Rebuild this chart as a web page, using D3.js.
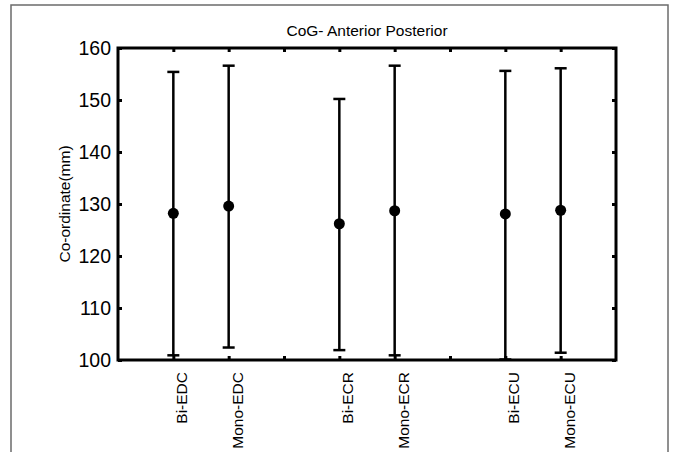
<!DOCTYPE html>
<html>
<head>
<meta charset="utf-8">
<script src="https://cdn.jsdelivr.net/npm/d3@7"></script>
<style>
  html, body { margin: 0; padding: 0; background: #fff; }
  svg { display: block; }
  text { font-family: Arial, "Liberation Sans", sans-serif; fill: #000; }
</style>
</head>
<body>
<svg id="chart" width="673" height="452"></svg>
<script>
// Muscle groups and their slot on the x axis (gaps at 3 and 6)
const categories = ["Bi-EDC", "Mono-EDC", "Bi-ECR", "Mono-ECR", "Bi-ECU", "Mono-ECU"];
const positions = [1, 2, 4, 5, 7, 8];
// Centre of gravity, anterior-posterior (mm): mean with lower / upper bar ends
const means = [128.2, 129.6, 126.2, 128.7, 128.1, 128.8];
const lower = [100.9, 102.4, 101.9, 100.9, 100.1, 101.4];
const upper = [155.4, 156.6, 150.2, 156.6, 155.6, 156.1];
const yTicks = [100, 110, 120, 130, 140, 150, 160];
const xTicks = [1, 2, 3, 4, 5, 6, 7, 8];

const svg = d3.select("#chart");

// outer figure frame
svg.append("rect")
  .attr("x", 11).attr("y", 5)
  .attr("width", 657).attr("height", 470)
  .attr("fill", "none").attr("stroke", "#6b6b6b").attr("stroke-width", 1.5);

const plot = { left: 118, right: 616, top: 48, bottom: 360 };
const x = d3.scaleLinear().domain([0, 9]).range([plot.left, plot.right]);
const y = d3.scaleLinear().domain([100, 160]).range([plot.bottom, plot.top]);

const labelFor = p => {
  const i = positions.indexOf(p);
  return i >= 0 ? categories[i] : "";
};

function styleAxis(g) {
  g.select(".domain").remove();
  g.selectAll(".tick line").attr("stroke", "#000").attr("stroke-width", 3);
}

// left axis with inward ticks
svg.append("g")
  .attr("transform", `translate(${plot.left},0)`)
  .call(d3.axisLeft(y).tickValues(yTicks).tickSize(-4).tickPadding(7).tickFormat(d3.format("d")))
  .call(styleAxis)
  .call(g => g.selectAll(".tick text").attr("font-size", 19.5).attr("fill", "#000"));

// right axis ticks
svg.append("g")
  .attr("transform", `translate(${plot.right},0)`)
  .call(d3.axisRight(y).tickValues(yTicks).tickSize(-4).tickFormat(""))
  .call(styleAxis);

// top axis ticks
svg.append("g")
  .attr("transform", `translate(0,${plot.top})`)
  .call(d3.axisTop(x).tickValues(xTicks).tickSize(-4).tickFormat(""))
  .call(styleAxis);

// bottom axis with rotated category labels
svg.append("g")
  .attr("transform", `translate(0,${plot.bottom})`)
  .call(d3.axisBottom(x).tickValues(xTicks).tickSize(-4).tickFormat(labelFor))
  .call(styleAxis)
  .call(g => g.selectAll(".tick text")
    .attr("font-size", 15.5)
    .attr("fill", "#000")
    .attr("text-anchor", "end")
    .attr("dy", null)
    .attr("y", 0)
    .attr("transform", "translate(13.5,12) rotate(-90)"));

// plot box
svg.append("rect")
  .attr("x", plot.left).attr("y", plot.top)
  .attr("width", plot.right - plot.left).attr("height", plot.bottom - plot.top)
  .attr("fill", "none").attr("stroke", "#000").attr("stroke-width", 3);

// error bars
const rows = categories.map((c, i) => ({ c, p: positions[i], m: means[i], lo: lower[i], hi: upper[i] }));
const bars = svg.append("g").attr("stroke", "#000").attr("stroke-width", 2.5);
bars.selectAll("line.v").data(rows).join("line").attr("class", "v")
  .attr("x1", d => x(d.p)).attr("x2", d => x(d.p))
  .attr("y1", d => y(d.lo)).attr("y2", d => y(d.hi));
bars.selectAll("line.hi").data(rows).join("line").attr("class", "hi")
  .attr("x1", d => x(d.p) - 6).attr("x2", d => x(d.p) + 6)
  .attr("y1", d => y(d.hi)).attr("y2", d => y(d.hi));
bars.selectAll("line.lo").data(rows).join("line").attr("class", "lo")
  .attr("x1", d => x(d.p) - 6).attr("x2", d => x(d.p) + 6)
  .attr("y1", d => y(d.lo)).attr("y2", d => y(d.lo));

// mean markers
svg.append("g").selectAll("circle").data(rows).join("circle")
  .attr("cx", d => x(d.p)).attr("cy", d => y(d.m)).attr("r", 5.5)
  .attr("fill", "#000");

// title and y label
svg.append("text")
  .attr("x", (plot.left + plot.right) / 2).attr("y", 36)
  .attr("text-anchor", "middle").attr("font-size", 15.5)
  .text("CoG- Anterior Posterior");

svg.append("text")
  .attr("transform", `translate(70,${(plot.top + plot.bottom) / 2}) rotate(-90)`)
  .attr("text-anchor", "middle").attr("font-size", 15.5)
  .text("Co-ordinate(mm)");
</script>
</body>
</html>
